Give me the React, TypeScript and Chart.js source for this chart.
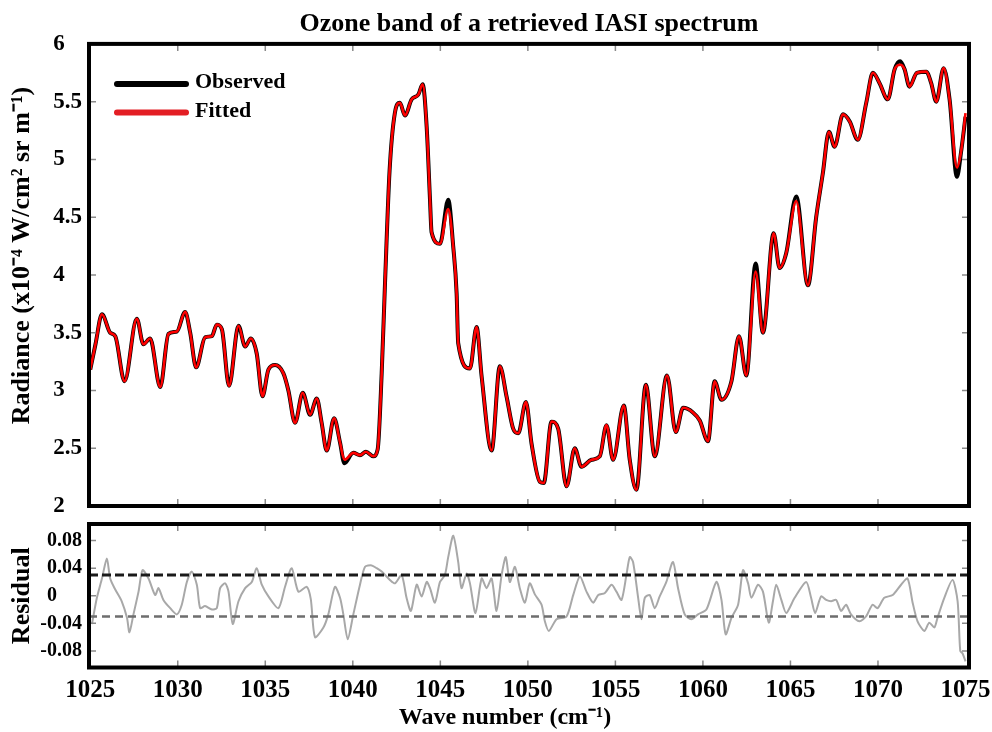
import React, { useEffect, useRef } from 'react';
import { Chart, registerables } from 'chart.js';

Chart.register(...registerables);

const TITLE = 'Ozone band of a retrieved IASI spectrum';
const Y_TITLE = 'Radiance (x10\u207B\u2074 W/cm\u00B2 sr m\u207B\u00B9)';
const RES_TITLE = 'Residual';
const X_TITLE = 'Wave number (cm\u207B\u00B9)';
const SERIES_NAMES = ['Observed', 'Fitted'];

const X_TICKS = [1025, 1030, 1035, 1040, 1045, 1050, 1055, 1060, 1065, 1070, 1075];
const Y_TICKS = [2, 2.5, 3, 3.5, 4, 4.5, 5, 5.5, 6];
const RES_TICKS = [-0.08, -0.04, 0, 0.04, 0.08];
const RES_BANDS = [0.03, -0.03];

const WAVENUMBER = [
  1025.0, 1025.3, 1025.67, 1026.14, 1026.43, 1026.96, 1027.66, 1028.04, 1028.42, 1029.0,
  1029.47, 1029.95, 1030.42, 1030.71, 1031.05, 1031.56, 1031.95, 1032.23, 1032.52, 1032.93,
  1033.47, 1033.85, 1034.17, 1034.51, 1034.84, 1035.18, 1035.56, 1036.03, 1036.32, 1036.7,
  1037.14, 1037.56, 1037.94, 1038.22, 1038.51, 1038.93, 1039.27, 1039.52, 1040.03, 1040.41,
  1040.75, 1041.17, 1041.42, 1041.65, 1041.84, 1042.1, 1042.4, 1042.69, 1042.98, 1043.36,
  1043.74, 1043.99, 1044.22, 1044.41, 1044.5, 1044.98, 1045.45, 1045.74, 1045.93, 1046.02,
  1046.69, 1047.07, 1047.36, 1047.93, 1048.4, 1048.78, 1049.16, 1049.45, 1049.89, 1050.21,
  1050.68, 1050.91, 1051.35, 1051.73, 1052.21, 1052.68, 1053.06, 1053.63, 1054.11, 1054.49,
  1054.87, 1055.48, 1055.82, 1056.2, 1056.74, 1057.25, 1057.95, 1058.45, 1058.87, 1059.43,
  1059.82, 1060.29, 1060.67, 1061.06, 1061.63, 1062.06, 1062.48, 1063.01, 1063.43, 1064.04,
  1064.38, 1064.76, 1065.33, 1066.0, 1066.47, 1066.85, 1067.2, 1067.52, 1068.0, 1068.38,
  1068.85, 1069.33, 1069.71, 1070.09, 1070.56, 1070.95, 1071.27, 1071.52, 1071.8, 1072.22,
  1072.76, 1073.04, 1073.33, 1073.75, 1074.09, 1074.51, 1074.76, 1075.0,
];

const OBSERVED = [
  3.18, 3.4, 3.66, 3.5, 3.47, 3.08, 3.62, 3.4, 3.45, 3.03,
  3.49, 3.51, 3.68, 3.5, 3.2, 3.46, 3.47, 3.57, 3.53, 3.04,
  3.56, 3.38, 3.45, 3.32, 2.95, 3.18, 3.22, 3.15, 3.0, 2.72,
  2.98, 2.79, 2.93, 2.72, 2.48, 2.76, 2.55, 2.37, 2.46, 2.44,
  2.47, 2.43, 2.49, 3.15, 3.93, 4.9, 5.4, 5.49, 5.38, 5.52,
  5.56, 5.65, 5.28, 4.65, 4.37, 4.27, 4.65, 4.24, 3.84, 3.41,
  3.19, 3.55, 3.12, 2.48, 3.21, 2.95, 2.67, 2.63, 2.9, 2.54,
  2.21, 2.2, 2.73, 2.67, 2.17, 2.5, 2.34, 2.4, 2.43, 2.7,
  2.4, 2.87, 2.4, 2.14, 3.05, 2.43, 3.13, 2.64, 2.85, 2.81,
  2.74, 2.56, 3.08, 2.92, 3.08, 3.47, 3.13, 4.1, 3.5, 4.36,
  4.06, 4.19, 4.68, 3.91, 4.5, 4.88, 5.24, 5.11, 5.39, 5.33,
  5.17, 5.49, 5.75, 5.66, 5.52, 5.78, 5.85, 5.78, 5.63, 5.75,
  5.76, 5.66, 5.5, 5.79, 5.52, 4.85, 5.08, 5.37,
];

const FITTED = [
  3.18, 3.4, 3.66, 3.5, 3.47, 3.08, 3.62, 3.4, 3.45, 3.03,
  3.49, 3.51, 3.68, 3.5, 3.2, 3.46, 3.47, 3.57, 3.53, 3.04,
  3.56, 3.38, 3.45, 3.32, 2.95, 3.18, 3.22, 3.15, 3.0, 2.72,
  2.98, 2.79, 2.93, 2.72, 2.48, 2.76, 2.55, 2.4, 2.46, 2.44,
  2.47, 2.43, 2.49, 3.15, 3.93, 4.9, 5.4, 5.49, 5.38, 5.52,
  5.56, 5.65, 5.28, 4.65, 4.37, 4.27, 4.57, 4.24, 3.84, 3.41,
  3.19, 3.55, 3.12, 2.48, 3.21, 2.95, 2.67, 2.63, 2.9, 2.54,
  2.21, 2.2, 2.73, 2.67, 2.17, 2.5, 2.34, 2.4, 2.43, 2.7,
  2.4, 2.87, 2.4, 2.14, 3.05, 2.43, 3.13, 2.64, 2.85, 2.81,
  2.74, 2.56, 3.08, 2.92, 3.08, 3.47, 3.13, 4.03, 3.5, 4.36,
  4.06, 4.19, 4.64, 3.91, 4.5, 4.88, 5.24, 5.11, 5.39, 5.33,
  5.17, 5.49, 5.75, 5.66, 5.52, 5.78, 5.82, 5.78, 5.63, 5.75,
  5.76, 5.66, 5.5, 5.79, 5.52, 4.93, 5.08, 5.4,
];

const RES_WAVENUMBER = [
  1025.1, 1025.38, 1025.67, 1025.95, 1026.14, 1026.43, 1026.8, 1027.1, 1027.24, 1027.47,
  1027.76, 1027.99, 1028.33, 1028.71, 1028.9, 1029.18, 1029.57, 1029.95, 1030.23, 1030.52,
  1030.8, 1031.09, 1031.28, 1031.56, 1031.95, 1032.23, 1032.42, 1032.71, 1032.9, 1033.14,
  1033.47, 1033.85, 1034.23, 1034.51, 1034.8, 1035.18, 1035.75, 1036.13, 1036.51, 1036.89,
  1037.37, 1037.6, 1037.84, 1038.32, 1038.6, 1038.98, 1039.27, 1039.46, 1039.71, 1040.03,
  1040.41, 1040.7, 1041.08, 1041.36, 1041.65, 1042.12, 1042.41, 1042.79, 1043.07, 1043.32,
  1043.65, 1043.93, 1044.22, 1044.41, 1044.69, 1044.98, 1045.26, 1045.45, 1045.74, 1046.02,
  1046.21, 1046.5, 1046.69, 1047.01, 1047.36, 1047.64, 1047.93, 1048.21, 1048.5, 1048.74,
  1048.97, 1049.26, 1049.54, 1049.83, 1050.11, 1050.4, 1050.78, 1050.97, 1051.2, 1051.64,
  1052.21, 1052.59, 1052.97, 1053.35, 1053.73, 1054.02, 1054.4, 1054.78, 1055.06, 1055.35,
  1055.63, 1055.82, 1056.01, 1056.3, 1056.49, 1056.68, 1056.96, 1057.25, 1057.53, 1057.91,
  1058.29, 1058.58, 1058.96, 1059.34, 1059.72, 1060.2, 1060.77, 1061.06, 1061.3, 1061.63,
  1062.01, 1062.29, 1062.58, 1062.77, 1063.15, 1063.43, 1063.76, 1064.0, 1064.19, 1064.48,
  1064.76, 1065.24, 1065.9, 1066.18, 1066.41, 1066.75, 1067.04, 1067.32, 1067.61, 1067.89,
  1068.18, 1068.46, 1068.94, 1069.32, 1069.69, 1069.98, 1070.36, 1070.84, 1071.32, 1071.69,
  1071.98, 1072.26, 1072.65, 1072.93, 1073.22, 1073.4, 1073.79, 1074.26, 1074.55, 1074.7,
  1074.84, 1075.0,
];

const RESIDUAL = [
  -0.041, -0.003, 0.025, 0.054, 0.025, 0.009, -0.008, -0.032, -0.053, -0.027,
  0.006, 0.037, 0.025, 0.001, 0.011, -0.006, -0.018, -0.027, -0.013, 0.02,
  0.035, 0.016, -0.018, -0.015, -0.02, -0.018, 0.011, 0.018, 0.006, -0.041,
  -0.008, 0.011, 0.02, 0.04, 0.016, -0.001, -0.018, 0.013, 0.04, 0.006,
  0.013, -0.005, -0.06, -0.046, -0.027, 0.013, -0.003, -0.027, -0.063, -0.027,
  0.016, 0.042, 0.044, 0.04, 0.035, 0.023, 0.018, 0.03, -0.003, -0.022,
  0.016, -0.001, 0.02, 0.011, -0.01, 0.02, 0.03, 0.056, 0.087, 0.049,
  0.011, 0.032, 0.018, -0.025, 0.025, 0.011, 0.025, -0.022, 0.03, 0.056,
  0.02, 0.042, 0.011, -0.01, 0.018, 0.002, -0.013, -0.037, -0.051, -0.034,
  -0.03, 0.001, 0.028, 0.006, -0.01, 0.001, 0.004, 0.016, 0.006, -0.006,
  0.03, 0.056, 0.049, -0.003, -0.034, -0.003, 0.001, -0.018, -0.001, 0.02,
  0.049, 0.011, -0.027, -0.034, -0.027, -0.02, 0.02, -0.006, -0.056, -0.032,
  -0.013, 0.037, 0.018, -0.003, 0.016, 0.006, -0.039, -0.008, 0.016, -0.006,
  -0.025, -0.003, 0.02, -0.003, -0.025, -0.001, -0.006, -0.008, -0.006, -0.022,
  -0.013, -0.027, -0.037, -0.03, -0.013, -0.018, -0.003, 0.001, 0.016, 0.025,
  -0.01, -0.037, -0.051, -0.039, -0.046, -0.032, -0.003, 0.023, -0.008, -0.08,
  -0.084, -0.095,
];

const X_MIN = 1024.93;
const X_MAX = 1075.2;
const SERIF = "'Liberation Serif', 'Times New Roman', Times, serif";
const LEGEND_COLORS = ['#000000', '#e31e24'];

const framePlugin = {
  id: 'frame',
  afterDatasetsDraw(chart: any, _args: any, opts: any) {
    const { ctx, chartArea: a, scales } = chart;
    const xs = scales.x;
    const ys = scales.y;
    ctx.save();
    ctx.strokeStyle = '#8a8a8a';
    ctx.lineWidth = 1.5;
    const L = 7;
    ctx.beginPath();
    for (const v of opts.xTicks) {
      const p = xs.getPixelForValue(v);
      if (p - a.left < 5 || a.right - p < 5) continue;
      ctx.moveTo(p, a.top);
      ctx.lineTo(p, a.top + L);
      ctx.moveTo(p, a.bottom);
      ctx.lineTo(p, a.bottom - L);
    }
    for (const v of opts.yTicks) {
      const p = ys.getPixelForValue(v);
      if (p - a.top < 5 || a.bottom - p < 5) continue;
      ctx.moveTo(a.left, p);
      ctx.lineTo(a.left + L, p);
      ctx.moveTo(a.right, p);
      ctx.lineTo(a.right - L, p);
    }
    ctx.stroke();
    ctx.strokeStyle = '#000';
    ctx.lineWidth = 4;
    ctx.strokeRect(a.left, a.top, a.right - a.left, a.bottom - a.top);
    ctx.restore();
  },
};

const insetLegendPlugin = {
  id: 'insetLegend',
  afterDatasetsDraw(chart: any) {
    const { ctx, chartArea: a } = chart;
    ctx.save();
    SERIES_NAMES.forEach((name, i) => {
      const y = a.top + 40 + i * 28.7;
      ctx.strokeStyle = LEGEND_COLORS[i];
      ctx.lineWidth = 6;
      ctx.lineCap = 'round';
      ctx.beginPath();
      ctx.moveTo(a.left + 28, y);
      ctx.lineTo(a.left + 97, y);
      ctx.stroke();
      ctx.fillStyle = '#000';
      ctx.font = `bold 22px ${SERIF}`;
      ctx.textBaseline = 'middle';
      ctx.textAlign = 'left';
      ctx.fillText(name, a.left + 106, y - 1.5);
    });
    ctx.restore();
  },
};

export default function App() {
  const topRef = useRef<HTMLCanvasElement>(null);
  const botRef = useRef<HTMLCanvasElement>(null);

  useEffect(() => {
    const obsPts = WAVENUMBER.map((w, i) => ({ x: w, y: OBSERVED[i] }));
    const fitPts = WAVENUMBER.map((w, i) => ({ x: w, y: FITTED[i] }));
    const resPts = RES_WAVENUMBER.map((w, i) => ({ x: w, y: RESIDUAL[i] }));

    const top = new Chart(topRef.current as HTMLCanvasElement, {
      type: 'line',
      data: {
        datasets: [
          {
            label: SERIES_NAMES[0],
            data: obsPts,
            borderColor: '#000000',
            borderWidth: 4,
            pointRadius: 0,
            cubicInterpolationMode: 'monotone',
            order: 2,
          },
          {
            label: SERIES_NAMES[1],
            data: fitPts,
            borderColor: '#ff0000',
            borderWidth: 2.6,
            pointRadius: 0,
            cubicInterpolationMode: 'monotone',
            order: 1,
          },
        ],
      },
      options: {
        responsive: false,
        maintainAspectRatio: false,
        animation: false,
        events: [],
        layout: { padding: { left: 0, right: 23, top: 0, bottom: 9 } },
        plugins: {
          legend: { display: false },
          tooltip: { enabled: false },
          title: {
            display: true,
            fullSize: false,
            text: TITLE,
            color: '#000',
            font: { family: SERIF, size: 26, weight: 'bold', lineHeight: 1.15 },
            padding: { top: 9, bottom: 5 },
          },
          frame: { xTicks: X_TICKS, yTicks: Y_TICKS },
        } as any,
        scales: {
          x: { type: 'linear', min: X_MIN, max: X_MAX, display: false },
          y: {
            type: 'linear',
            min: Y_TICKS[0],
            max: Y_TICKS[Y_TICKS.length - 1],
            afterBuildTicks: (s: any) => {
              s.ticks = Y_TICKS.map((v) => ({ value: v }));
            },
            afterFit: (s: any) => {
              s.width = 89;
            },
            grid: { display: false, drawTicks: false },
            border: { display: false },
            ticks: {
              crossAlign: 'near',
              padding: 7,
              color: '#000',
              font: { family: SERIF, size: 23, weight: 'bold', lineHeight: 0.1 },
              callback: (v: any) => (Number.isInteger(v) ? String(v) + '   ' : String(v)),
            },
            title: {
              display: true,
              text: '      ' + Y_TITLE,
              color: '#000',
              font: { family: SERIF, size: 26, weight: 'bold' },
              padding: { top: 7, bottom: 0 },
            },
          },
        },
      } as any,
      plugins: [framePlugin, insetLegendPlugin],
    });

    const bot = new Chart(botRef.current as HTMLCanvasElement, {
      type: 'line',
      data: {
        datasets: [
          {
            label: 'upper',
            data: [
              { x: X_MIN, y: RES_BANDS[0] },
              { x: X_MAX, y: RES_BANDS[0] },
            ],
            borderColor: '#1a1a1a',
            borderWidth: 3,
            borderDash: [9, 4],
            pointRadius: 0,
            order: 1,
          },
          {
            label: 'lower',
            data: [
              { x: X_MIN, y: RES_BANDS[1] },
              { x: X_MAX, y: RES_BANDS[1] },
            ],
            borderColor: '#6e6e6e',
            borderWidth: 2.5,
            borderDash: [8, 5],
            pointRadius: 0,
            order: 1,
          },
          {
            label: RES_TITLE,
            data: resPts,
            borderColor: '#a8a8a8',
            borderWidth: 2,
            pointRadius: 0,
            tension: 0.25,
            order: 2,
          },
        ],
      },
      options: {
        responsive: false,
        maintainAspectRatio: false,
        animation: false,
        events: [],
        layout: { padding: { left: 0, right: 23, top: 9, bottom: 0 } },
        plugins: {
          legend: { display: false },
          tooltip: { enabled: false },
          title: { display: false },
          frame: { xTicks: X_TICKS, yTicks: RES_TICKS },
        } as any,
        scales: {
          x: {
            type: 'linear',
            min: X_MIN,
            max: X_MAX,
            afterBuildTicks: (s: any) => {
              s.ticks = X_TICKS.map((v) => ({ value: v }));
            },
            afterFit: (s: any) => {
              s.height = 64.5;
            },
            grid: { display: false, drawTicks: false },
            border: { display: false },
            ticks: {
              padding: 0,
              autoSkip: false,
              maxRotation: 0,
              color: '#000',
              font: { family: SERIF, size: 25, weight: 'bold', lineHeight: 1.84 },
              callback: (v: any) => String(v),
            },
            title: {
              display: true,
              text: X_TITLE + '        ',
              color: '#000',
              font: { family: SERIF, size: 24, weight: 'bold' },
              padding: { top: 0, bottom: 0 },
            },
          },
          y: {
            type: 'linear',
            min: -0.104,
            max: 0.104,
            afterBuildTicks: (s: any) => {
              s.ticks = RES_TICKS.map((v) => ({ value: v }));
            },
            afterFit: (s: any) => {
              s.width = 89;
            },
            grid: { display: false, drawTicks: false },
            border: { display: false },
            ticks: {
              crossAlign: 'near',
              padding: 7,
              color: '#000',
              font: { family: SERIF, size: 20, weight: 'bold', lineHeight: 0.1 },
              callback: (v: any) => (v === 0 ? '0     ' : String(v)),
            },
            title: {
              display: true,
              text: RES_TITLE,
              color: '#000',
              font: { family: SERIF, size: 26, weight: 'bold' },
              padding: { top: 7, bottom: 0 },
            },
          },
        },
      } as any,
      plugins: [framePlugin],
    });

    return () => {
      top.destroy();
      bot.destroy();
    };
  }, []);

  return (
    <div style={{ position: 'absolute', left: 0, top: 0, width: 992, height: 732, background: '#fff' }}>
      <canvas
        ref={topRef}
        width={992}
        height={515}
        style={{ position: 'absolute', left: 0, top: 0, width: 992, height: 515 }}
      />
      <canvas
        ref={botRef}
        width={992}
        height={217}
        style={{ position: 'absolute', left: 0, top: 515, width: 992, height: 217 }}
      />
    </div>
  );
}
